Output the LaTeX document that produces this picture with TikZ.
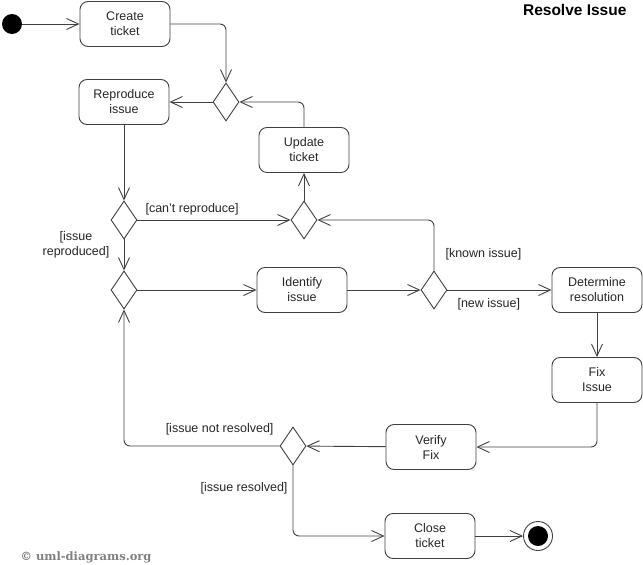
\documentclass[tikz,border=0pt]{standalone}
\usepackage{fontspec}
\setmainfont{Liberation Sans}
\newfontfamily\slabfont{DejaVu Serif}
\usetikzlibrary{positioning,shapes.geometric,arrows.meta}

\tikzset{
  action/.style={draw=black!75,line width=0.9pt,rounded corners=8pt,minimum width=90pt,minimum height=45pt,align=center,text=black!85,font=\fontsize{12.5}{15}\selectfont},
  branch/.style={diamond,draw=black!75,line width=0.9pt,minimum width=26pt,minimum height=38pt,inner sep=0pt},
  flow/.style={draw=black!75,line width=0.9pt,rounded corners=6pt,-{Straight Barb[length=12pt,width=11pt]}},
  guard/.style={align=right,text=black!85,font=\fontsize{12.5}{15}\selectfont}
}

\begin{document}
\begin{tikzpicture}[x=1pt,y=-1pt]
\useasboundingbox (0,0) rectangle (643,565);

\foreach \pos/\name/\txt in {{125,24}/create/{Create\\ticket}, {124,102}/reproduce/{Reproduce\\issue},
    {304,150}/update/{Update\\ticket}, {302,290}/identify/{Identify\\issue},
    {597,290}/determine/{Determine\\resolution}, {597,380}/fix/{Fix\\Issue},
    {431,447}/verify/{Verify\\Fix}, {430,536}/close/{Close\\ticket}} {
    \node[action] (\name) at (\pos) {\txt};
}

\foreach \pos/\name in {{226,102}/merge1, {124,220}/dec1, {304,220}/merge2,
    {124,290}/merge3, {434,290}/dec2, {293,446}/dec3} {
    \node[branch] (\name) at (\pos) {};
}

\node[circle,fill=black,minimum size=20pt,inner sep=0pt] (start) at (12,24) {};
\node[circle,draw=black!75,line width=0.9pt,minimum size=29pt,inner sep=0pt] (final) at (538,536) {};
\node[circle,fill=black,minimum size=20pt,inner sep=0pt] (finaldot) at (final) {};

\draw[flow] (start) -- (create);
\draw[flow] (create) -| (merge1);
\draw[flow] (merge1) -- (reproduce);
\draw[flow] (update) |- (merge1);
\draw[flow] (reproduce) -- (dec1);
\draw[flow] (dec1) -- (merge2);
\draw[flow] (merge2) -- (update);
\draw[flow] (dec1) -- (merge3);
\draw[flow] (merge3) -- (identify);
\draw[flow] (identify) -- (dec2);
\draw[flow] (dec2) |- (merge2);
\draw[flow] (dec2) -- (determine);
\draw[flow] (determine) -- (fix);
\draw[flow] (fix) |- (verify);
\draw[flow] (verify) -- (dec3);
\draw[flow] (dec3) -| (merge3);
\draw[flow] (dec3) |- (close);
\draw[flow] (close) -- (final);

% guards
\node[guard,anchor=west] (cantrep) at (142,209) {[can't reproduce]};
\node[guard,align=center] (reproduced) at (76,245) {[issue\\reproduced]};
\node[guard,anchor=west] (known) at (442,254) {[known issue]};
\node[guard,anchor=west] (newissue) at (454,304) {[new issue]};
\node[guard,anchor=east] (notresolved) at (277,429) {[issue not resolved]};
\node[guard,anchor=east] (resolved) at (291,488) {[issue resolved]};

\node[anchor=east,font=\bfseries\fontsize{15.5}{18}\selectfont] (title) at (630,10) {Resolve Issue};
\node[anchor=west,text=black!50,font=\slabfont\bfseries\fontsize{11.5}{13}\selectfont] (copyright) at (17,557) {© uml-diagrams.org};

\end{tikzpicture}
\end{document}
